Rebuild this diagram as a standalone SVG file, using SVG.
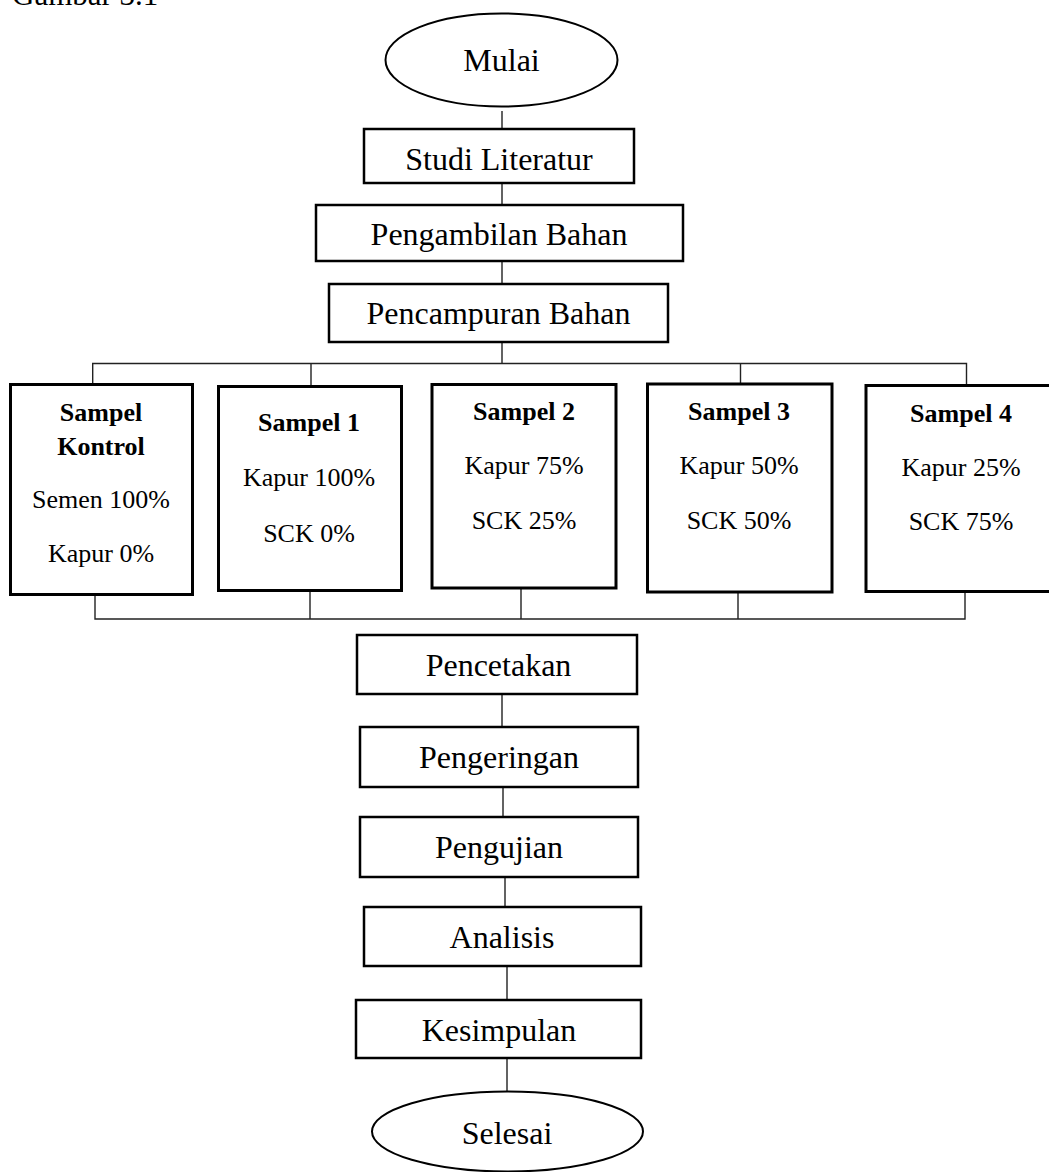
<svg xmlns="http://www.w3.org/2000/svg" width="1049" height="1172" viewBox="0 0 1049 1172">
<style>
.bg{fill:#fff}
.box{fill:#fff;stroke:#000;stroke-width:2.5}
.sbox{fill:#fff;stroke:#000;stroke-width:3}
.term{fill:#fff;stroke:#000;stroke-width:2}
.t{font-family:"Liberation Serif","Times New Roman",serif;font-size:32px;fill:#000;text-anchor:middle}
.s{font-family:"Liberation Serif","Times New Roman",serif;font-size:26px;fill:#000;text-anchor:middle}
.b{font-weight:bold}
.cap{font-family:"Liberation Serif","Times New Roman",serif;font-size:31px;fill:#000}
.c{fill:none;stroke:#222;stroke-width:1.4}
</style>
<rect class="bg" x="0" y="0" width="1049" height="1172"/>
<text class="cap" x="12" y="5">Gambar 3.1</text>
<g id="connectors">
<path class="c" d="M502 111V129M502 183V205M502 261V284M502 342V363.5"/>
<path class="c" d="M92.7 384V363.5H966.5V384M311 363.5V386"/>
<path class="c" d="M740.5 363.5V384"/>
<path class="c" d="M95 594V619H965V592M310 588V619M521 588V619M738 592V619"/>
<path class="c" d="M502 694V727M503 787V817M505 877V907M507 966V1000M507 1058V1092"/>
</g>
<g id="mulai"><ellipse class="term" cx="501.5" cy="60" rx="116" ry="46.5"/><text class="t" x="501.5" y="71">Mulai</text></g>
<g id="studi"><rect class="box" x="364" y="129" width="270" height="54"/><text class="t" x="499" y="170">Studi Literatur</text></g>
<g id="pengambilan"><rect class="box" x="316" y="205" width="367" height="56"/><text class="t" x="499" y="245">Pengambilan Bahan</text></g>
<g id="pencampuran"><rect class="box" x="329" y="284" width="339" height="58"/><text class="t" x="498.5" y="324">Pencampuran Bahan</text></g>
<g id="kontrol"><rect class="sbox" x="10.5" y="384.5" width="182" height="210"/>
<text class="s b" x="101" y="421">Sampel</text><text class="s b" x="101" y="455">Kontrol</text>
<text class="s" x="101" y="508">Semen 100%</text><text class="s" x="101" y="562">Kapur 0%</text></g>
<g id="sampel1"><rect class="sbox" x="218.5" y="386.5" width="183" height="204"/>
<text class="s b" x="309" y="431">Sampel 1</text><text class="s" x="309" y="486">Kapur 100%</text><text class="s" x="309" y="542">SCK 0%</text></g>
<g id="sampel2"><rect class="sbox" x="432" y="384.5" width="184" height="203.5"/>
<text class="s b" x="524" y="420">Sampel 2</text><text class="s" x="524" y="474">Kapur 75%</text><text class="s" x="524" y="529">SCK 25%</text></g>
<g id="sampel3"><rect class="sbox" x="647.5" y="384" width="184.5" height="208"/>
<text class="s b" x="739" y="420">Sampel 3</text><text class="s" x="739" y="474">Kapur 50%</text><text class="s" x="739" y="529">SCK 50%</text></g>
<g id="sampel4"><rect class="sbox" x="866" y="385.5" width="186" height="206"/>
<text class="s b" x="961" y="422">Sampel 4</text><text class="s" x="961" y="476">Kapur 25%</text><text class="s" x="961" y="530">SCK 75%</text></g>
<g id="pencetakan"><rect class="box" x="357" y="635" width="280" height="59"/><text class="t" x="498.5" y="676">Pencetakan</text></g>
<g id="pengeringan"><rect class="box" x="360" y="727" width="278" height="60"/><text class="t" x="499" y="768">Pengeringan</text></g>
<g id="pengujian"><rect class="box" x="360" y="817" width="278" height="60"/><text class="t" x="499" y="858">Pengujian</text></g>
<g id="analisis"><rect class="box" x="364" y="907" width="277" height="59"/><text class="t" x="502" y="948">Analisis</text></g>
<g id="kesimpulan"><rect class="box" x="356" y="1000" width="285" height="58"/><text class="t" x="499" y="1041">Kesimpulan</text></g>
<g id="selesai"><ellipse class="term" cx="507.5" cy="1131.5" rx="135.5" ry="40"/><text class="t" x="507" y="1144">Selesai</text></g>
</svg>
